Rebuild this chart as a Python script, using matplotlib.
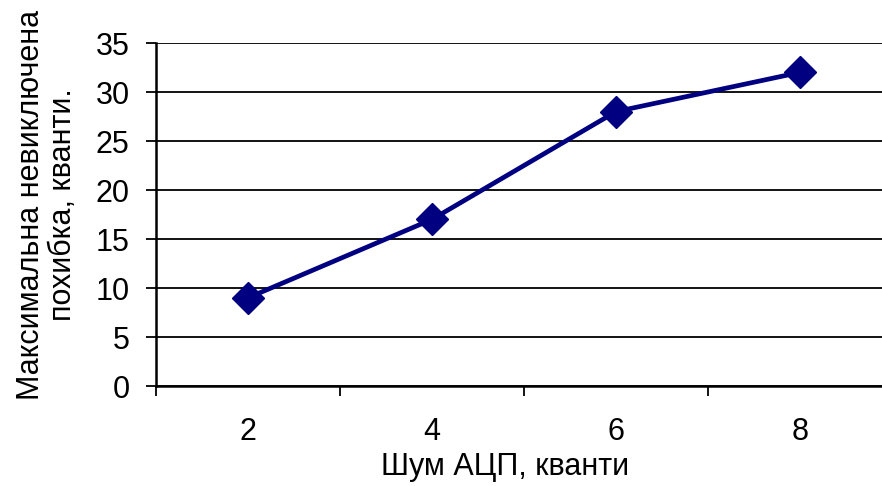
import matplotlib
matplotlib.use("Agg")
import matplotlib.pyplot as plt
import numpy as np

noise = ["2", "4", "6", "8"]
max_error = [9, 17, 28, 32]
y_ticks = [0, 5, 10, 15, 20, 25, 30, 35]

_LINE_COLOR = "#000080"

plt.rcParams["font.family"] = ["Liberation Sans", "DejaVu Sans"]

W, H = 882, 486
fig = plt.figure(figsize=(W / 100, H / 100), dpi=100)
# plot area runs past the right edge of the picture, as in the original
ax = fig.add_axes([156 / W, 1 - 386 / H, 736 / W, 343 / H])

x = np.arange(len(noise))
ax.plot(x, max_error, color=_LINE_COLOR, linewidth=3.4, marker="D",
        markersize=16, clip_on=False, zorder=3)

ax.set_xlim(-0.5, len(noise) - 0.5)
ax.set_ylim(0, 35)
ax.set_yticks(y_ticks)
ax.yaxis.grid(True, color="black", linewidth=1.3)
ax.set_axisbelow(True)

ax.set_xticks(x)
ax.set_xticklabels(noise)
ax.set_xticks(np.arange(-0.5, len(noise), 1.0), minor=True)
ax.tick_params(axis="x", which="major", length=0, labelsize=22, pad=22)
ax.tick_params(axis="x", which="minor", length=7, width=1.3, direction="out")
ax.tick_params(axis="y", length=7, width=1.3, labelsize=22, pad=12)

for side in ("top", "right"):
    ax.spines[side].set_visible(False)
for side in ("left", "bottom"):
    ax.spines[side].set_linewidth(1.8)

ax.set_xlabel("Шум АЦП, кванти", fontsize=22)
ax.xaxis.set_label_coords(0.474, -0.192)
ax.set_ylabel("Максимальна невиключена\nпохибка, кванти.", fontsize=22,
              linespacing=1.1)
ax.yaxis.set_label_coords(-0.106, 0.528)

fig.savefig("out.png", dpi=100, facecolor="white")
